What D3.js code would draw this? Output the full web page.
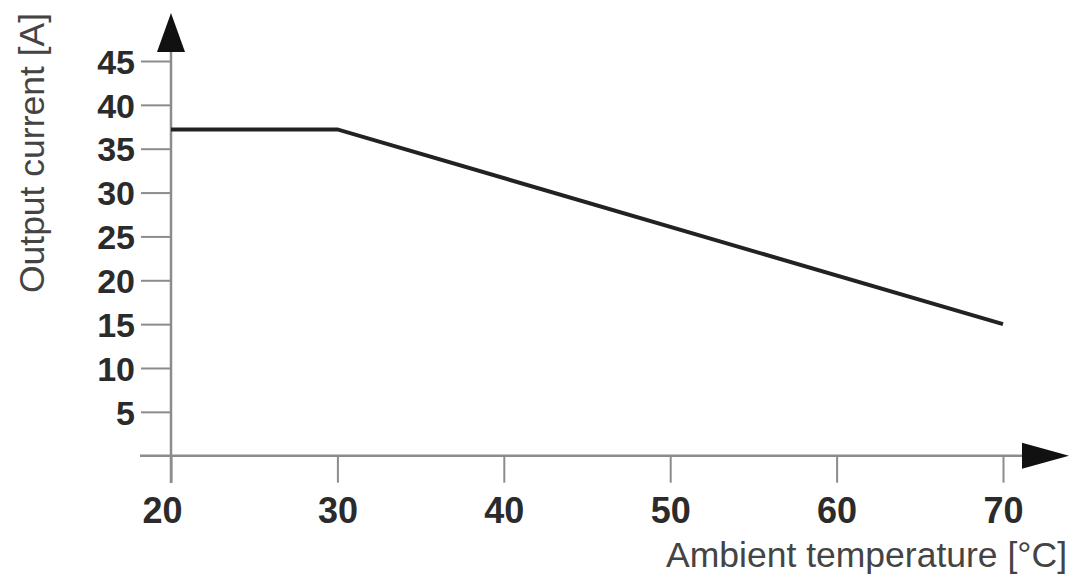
<!DOCTYPE html>
<html>
<head>
<meta charset="utf-8">
<script src="https://cdn.jsdelivr.net/npm/d3@7"></script>
<style>
  html, body { margin: 0; padding: 0; background: #fff; }
  svg { display: block; font-family: 'Liberation Sans', Arial, sans-serif; }
</style>
</head>
<body>
<div id="chart"></div>
<script>
// derating curve
const temperatures = [20, 30, 70];
const currents = [37.2, 37.2, 15];
const xTicks = [20, 30, 40, 50, 60, 70];
const yTicks = [5, 10, 15, 20, 25, 30, 35, 40, 45];

const width = 1069, height = 574;

const svg = d3.select('#chart').append('svg')
  .attr('width', width)
  .attr('height', height);

const x = d3.scaleLinear().domain([20, 70]).range([171, 1003]);
const y = d3.scaleLinear().domain([0, 45]).range([455.7, 61]);

const axisColor = '#8c8c8c';

// x axis line + arrow
svg.append('line')
  .attr('x1', 140).attr('x2', 1030)
  .attr('y1', y(0)).attr('y2', y(0))
  .attr('stroke', axisColor).attr('stroke-width', 2.5);
svg.append('path')
  .attr('d', `M1022,${y(0) - 13}L1069,${y(0)}L1022,${y(0) + 13}Z`)
  .attr('fill', '#111');

// y axis line + arrow
svg.append('line')
  .attr('x1', x(20)).attr('x2', x(20))
  .attr('y1', 483).attr('y2', 45)
  .attr('stroke', axisColor).attr('stroke-width', 2.5);
svg.append('path')
  .attr('d', `M${x(20) - 14},52L${x(20)},13L${x(20) + 14},52Z`)
  .attr('fill', '#111');

// x ticks
const xAxis = d3.axisBottom(x)
  .tickValues(xTicks)
  .tickSize(27)
  .tickPadding(14)
  .tickFormat(d3.format('d'));

const gx = svg.append('g')
  .attr('transform', `translate(0,${y(0)})`)
  .call(xAxis);
gx.select('.domain').remove();
gx.selectAll('.tick line').attr('stroke', axisColor).attr('stroke-width', 2);
gx.selectAll('.tick text')
  .attr('fill', '#2b2b2b')
  .attr('font-size', 36)
  .attr('font-weight', 'bold')
  .attr('font-family', "'Liberation Sans', Arial, sans-serif")
  .attr('dy', '0.72em')
  // first label sits a little left of its tick in the original
  .attr('dx', d => d === 20 ? -9 : 0);

// y ticks
const yAxis = d3.axisLeft(y)
  .tickValues(yTicks)
  .tickSize(30)
  .tickPadding(6);

const gy = svg.append('g')
  .attr('transform', `translate(${x(20)},0)`)
  .call(yAxis);
gy.select('.domain').remove();
gy.selectAll('.tick line').attr('stroke', axisColor).attr('stroke-width', 2);
gy.selectAll('.tick text')
  .attr('fill', '#2b2b2b')
  .attr('font-size', 34)
  .attr('font-weight', 'bold')
  .attr('font-family', "'Liberation Sans', Arial, sans-serif")
  .attr('dy', '0.36em');

// curve
const line = d3.line()
  .x((d, i) => x(temperatures[i]))
  .y(d => y(d));

svg.append('path')
  .datum(currents)
  .attr('d', line)
  .attr('fill', 'none')
  .attr('stroke', '#222')
  .attr('stroke-width', 4);

// axis titles
svg.append('text')
  .attr('x', 1067).attr('y', 567)
  .attr('text-anchor', 'end')
  .attr('font-size', 35.5)
  .attr('fill', '#444')
  .text('Ambient temperature [°C]');

svg.append('text')
  .attr('transform', 'translate(44,153) rotate(-90)')
  .attr('text-anchor', 'middle')
  .attr('font-size', 35.5)
  .attr('fill', '#444')
  .text('Output current [A]');
</script>
</body>
</html>
